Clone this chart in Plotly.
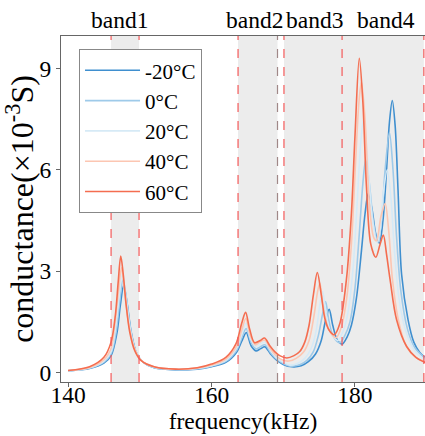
import plotly.graph_objects as go

# ---- data ----
labels = ["-20°C", "0°C", "20°C", "40°C", "60°C"]
colors = ["#3f8fcf", "#9ecae9", "#d6eaf6", "#fcc6b2", "#f46d50"]

f_m20 = [140, 143, 145, 146, 146.8, 147.3, 147.75, 148.2, 148.8, 149.5, 150.5, 152, 155, 158, 160, 162, 163.5, 164.2,
         164.85, 165.5, 166.2, 166.8, 167.45, 168.2, 169, 170, 171.2, 172.5, 173.5, 174.5, 175.3, 175.9, 176.4, 176.9,
         177.5, 178.2, 178.9, 179.5, 180.2, 180.9, 181.4, 181.85, 182.4, 182.9, 183.4, 183.9, 184.4, 184.8, 185.2,
         185.6, 186.0, 186.5, 187.4, 188.2, 189, 190]
v_m20 = [0.05, 0.12, 0.28, 0.5, 1.15, 2.0, 2.58, 2.1, 1.2, 0.6, 0.3, 0.14, 0.08, 0.1, 0.17, 0.3, 0.6, 0.92,
         1.18, 0.8, 0.64, 0.7, 0.76, 0.56, 0.38, 0.24, 0.17, 0.2, 0.32, 0.55, 0.95, 1.55, 1.87, 1.4,
         0.98, 0.84, 1.05, 1.4, 2.2, 3.6, 4.7, 5.3, 4.8, 4.1, 3.83, 4.5, 6.0, 7.4, 8.05,
         7.3, 5.4, 2.9, 1.56, 0.9, 0.6, 0.4]

f_0 = [140, 143, 145, 146, 146.7, 147.2, 147.65, 148.1, 148.7, 149.4, 150.4, 152, 155, 158, 160, 162, 163.5, 164.2,
       164.83, 165.5, 166.2, 166.8, 167.45, 168.2, 169, 170, 171.0, 172.3, 173.3, 174.2, 174.9, 175.5, 175.9, 176.35,
       176.95, 177.9, 178.6, 179.3, 180.0, 180.6, 181.1, 181.5, 182.0, 182.6, 183.2, 183.7, 184.2, 184.8, 185.3,
       185.8, 186.4, 187.3, 188.3, 190]
v_0 = [0.05, 0.13, 0.31, 0.56, 1.2, 2.1, 2.75, 2.25, 1.3, 0.65, 0.32, 0.15, 0.09, 0.11, 0.19, 0.33, 0.66, 1.02,
       1.3, 0.9, 0.7, 0.76, 0.82, 0.6, 0.41, 0.27, 0.19, 0.23, 0.36, 0.62, 1.1, 1.75, 2.1, 1.55,
       1.08, 0.88, 1.1, 1.5, 2.5, 4.1, 5.6, 6.3, 5.6, 4.4, 3.85, 4.5, 6.0, 7.1, 6.0,
       4.0, 2.4, 1.3, 0.75, 0.38]

f_20 = [140, 143, 145, 146, 146.6, 147.1, 147.55, 148.0, 148.6, 149.3, 150.3, 152, 155, 158, 160, 162, 163.5, 164.2,
        164.8, 165.45, 166.15, 166.75, 167.45, 168.2, 169, 170, 170.9, 172.0, 173.0, 173.9, 174.6, 175.1, 175.5,
        175.95, 176.6, 177.6, 178.3, 179.0, 179.7, 180.3, 180.8, 181.2, 181.7, 182.4, 183.1, 183.5, 183.9, 184.5,
        185.0, 185.5, 186.2, 187.2, 188.5, 190]
v_20 = [0.05, 0.14, 0.34, 0.62, 1.3, 2.2, 2.9, 2.35, 1.38, 0.7, 0.34, 0.16, 0.09, 0.12, 0.2, 0.36, 0.72, 1.12,
        1.45, 1.0, 0.77, 0.84, 0.9, 0.66, 0.45, 0.3, 0.22, 0.27, 0.42, 0.72, 1.25, 2.0, 2.4,
        1.75, 1.18, 0.95, 1.2, 1.75, 3.0, 5.0, 6.8, 7.5, 6.5, 4.6, 3.85, 4.2, 5.2, 6.0,
        5.2, 3.6, 2.1, 1.15, 0.6, 0.35]

f_40 = [140, 143, 145, 146, 146.5, 147.0, 147.45, 147.85, 148.45, 149.2, 150.2, 152, 155, 158, 160, 162, 163.5, 164.2,
        164.78, 165.4, 166.1, 166.7, 167.42, 168.15, 168.9, 169.9, 170.8, 171.8, 172.8, 173.6, 174.3, 174.75, 175.1,
        175.6, 176.3, 177.35, 178.1, 178.85, 179.5, 180.1, 180.55, 180.9, 181.4, 182.0, 182.6, 183.0, 183.6, 184.2,
        184.7, 185.2, 186.0, 187.0, 188.3, 190]
v_40 = [0.06, 0.15, 0.38, 0.72, 1.4, 2.35, 3.1, 2.5, 1.45, 0.75, 0.36, 0.17, 0.1, 0.13, 0.22, 0.4, 0.78, 1.25,
        1.6, 1.1, 0.82, 0.9, 0.96, 0.72, 0.52, 0.37, 0.34, 0.42, 0.6, 0.95, 1.7, 2.35, 2.65,
        1.9, 1.3, 1.03, 1.35, 2.2, 3.8, 6.3, 8.0, 8.6, 7.5, 5.0, 4.0, 3.9, 4.6, 5.0,
        4.2, 2.8, 1.6, 0.85, 0.48, 0.3]

f_60 = [140, 143, 145, 146, 146.6, 147.0, 147.35, 147.7, 148.1, 148.6, 149.3, 150.2, 152, 155, 158, 160, 162, 163.4,
        164.2, 164.75, 165.3, 166.0, 166.8, 167.4, 168.1, 168.8, 169.5, 170.5, 171.5, 172.3, 173.0, 173.6, 174.2,
        174.75, 175.3, 175.8, 176.4, 177.1, 177.9, 178.8, 179.5, 180.0, 180.6, 181.1, 181.6, 182.2, 182.9, 183.5,
        183.95, 184.4, 184.9, 185.8, 187.2, 188.5, 190]
v_60 = [0.06, 0.17, 0.45, 0.9, 1.7, 2.7, 3.45, 2.9, 2.0, 1.2, 0.65, 0.35, 0.17, 0.1, 0.14, 0.25, 0.45, 0.85,
        1.45, 1.78, 1.3, 0.88, 0.95, 1.02, 0.8, 0.62, 0.5, 0.43, 0.5, 0.62, 0.9, 1.4, 2.3,
        2.96, 2.3, 1.6, 1.25, 1.12, 1.46, 2.74, 4.7, 7.0, 9.3, 8.0, 5.5, 3.8, 3.41, 3.8,
        4.07, 3.5, 2.74, 1.56, 0.77, 0.45, 0.28]

freqs = [f_m20, f_0, f_20, f_40, f_60]
values = [v_m20, v_0, v_20, v_40, v_60]

band_names = ["band1", "band2", "band3", "band4"]
band_lo = [146.0, 163.7, 170.1, 178.2]
band_hi = [149.9, 169.2, 178.2, 189.6]
band_label_x = [147.2, 166.0, 174.4, 184.3]

x_ticks = [140, 160, 180]
y_ticks = [0, 3, 6, 9]

FONT = "Liberation Serif"
FS = 23.5

fig = go.Figure()

for f, v, name, c in zip(freqs, values, labels, colors):
    fig.add_trace(go.Scatter(x=f, y=v, mode="lines", name=name,
                             line=dict(color=c, width=1.6, shape="spline", smoothing=0.9)))

shapes = []
for lo, hi in zip(band_lo, band_hi):
    shapes.append(dict(type="rect", xref="x", yref="paper", x0=lo, x1=hi, y0=0, y1=1,
                       fillcolor="#ececec", line=dict(width=0), layer="below"))
edges = sorted(set(band_lo + band_hi))
for e in edges:
    col = "#a08888" if abs(e - 169.2) < 0.01 else "#f45a5a"
    shapes.append(dict(type="line", xref="x", yref="paper", x0=e, x1=e, y0=0, y1=1,
                       line=dict(color=col, width=1.2, dash="dash"), layer="above"))

annotations = []
for name, xc in zip(band_names, band_label_x):
    annotations.append(dict(x=xc, y=1.045, xref="x", yref="paper", text=name,
                            showarrow=False, yanchor="middle",
                            font=dict(size=FS, color="black", family=FONT)))

fig.update_layout(
    width=425, height=436,
    margin=dict(l=61, r=0, t=36, b=54),
    paper_bgcolor="white", plot_bgcolor="white",
    font=dict(family=FONT, size=FS, color="black"),
    shapes=shapes, annotations=annotations,
    showlegend=True,
    legend=dict(x=0.0495, y=0.962, xanchor="left", yanchor="top",
                bgcolor="white", bordercolor="#888888", borderwidth=1,
                font=dict(size=21, family=FONT, color="black"), itemwidth=55, tracegroupgap=0),
    xaxis=dict(range=[139.02, 189.76], tickvals=x_ticks, ticks="outside", ticklen=4,
               showline=True, linecolor="#666666", linewidth=1, mirror=True, showgrid=False,
               zeroline=False, tickcolor="#666666", ticklabelstandoff=-12,
               tickfont=dict(size=FS, family=FONT, color="black"),
               title=dict(text="frequency(kHz)", standoff=2, font=dict(size=FS, family=FONT, color="black"))),
    yaxis=dict(range=[-0.28, 9.96], tickvals=y_ticks, ticks="outside", ticklen=4,
               showline=True, linecolor="#666666", linewidth=1, mirror=True, showgrid=False,
               zeroline=False, tickcolor="#666666",
               tickfont=dict(size=FS, family=FONT, color="black"),
               title=dict(text="conductance(×10<sup>-3</sup>S)", standoff=0,
                          font=dict(size=32, family=FONT, color="black"))),
)

fig.write_html("out.html")
